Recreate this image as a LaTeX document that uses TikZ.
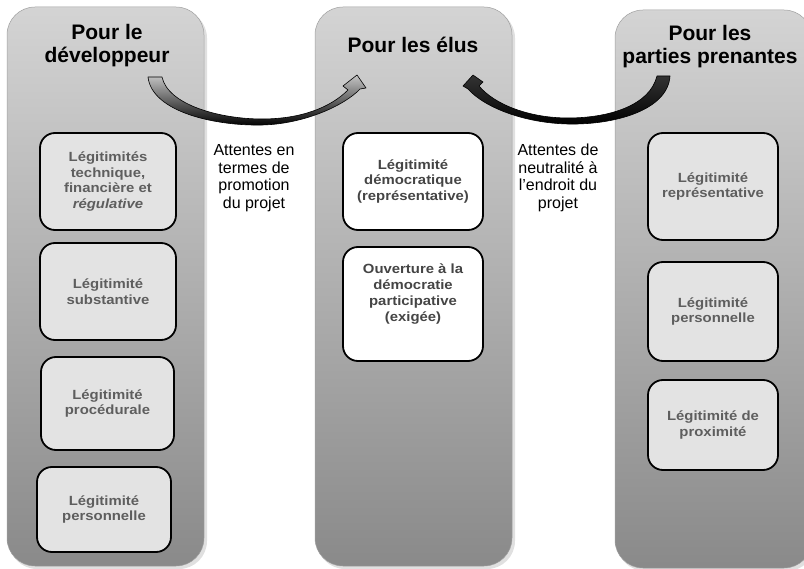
\documentclass[tikz,border=0pt]{standalone}
\usepackage{fontspec}
\setmainfont{Liberation Sans}
\newfontfamily\boxfont[FakeStretch=1.12]{Liberation Sans}
\definecolor{coltop}{gray}{0.83}
\definecolor{colbot}{gray}{0.54}
\definecolor{boxfill}{gray}{0.89}
\definecolor{boxtext}{HTML}{5E5E5E}
\definecolor{elustext}{HTML}{454545}
\begin{document}
\begin{tikzpicture}[x=1pt,y=-1pt,
  column/.style={rounded corners=28pt, top color=coltop, bottom color=colbot, draw=gray!75, line width=0.5pt},
  colshadow/.style={rounded corners=28pt, fill=black, opacity=0.12},
  legbox/.style={draw=black, line width=1.8pt, rounded corners=15pt, fill=boxfill, text=boxtext,
    font=\boxfont\fontsize{13.3}{15.7}\selectfont\bfseries, align=center, inner sep=0pt},
  elusbox/.style={legbox, fill=white, text=elustext},
  coltitle/.style={font=\fontsize{21}{23}\selectfont\bfseries, align=center, text=black},
  expect/.style={font=\fontsize{16}{17.6}\selectfont, align=center, text=black},
  bigarrow/.style={draw=black, line width=0.6pt, line join=round}
]
\useasboundingbox (0,0) rectangle (804,569);
\begin{scope}
\clip (0,0) rectangle (804,569);
% shadows
\fill[colshadow] (9,10) rectangle (207,569);
\fill[colshadow] (317,10) rectangle (515,569);
\fill[colshadow] (617,13) rectangle (815,571);
% columns
\path[column] (7,7) rectangle (204,566);
\path[column] (315,7) rectangle (512,566);
\path[column] (615,10) rectangle (812,568);
\end{scope}

% titles
\node[coltitle] (tdev) at (107,46) {Pour le\\développeur};
\node[coltitle] (telus) at (413,45) {Pour les élus};
\node[coltitle] (tpp) at (710,47) {Pour les\\parties prenantes};

% column 1 boxes
\node[legbox, minimum width=136pt, minimum height=97pt] (d1) at (108,181.5)
  {Légitimités\\technique,\\financière et\\\textit{régulative}};
\node[legbox, minimum width=136pt, minimum height=97pt] (d2) at (108,291.5)
  {Légitimité\\substantive};
\node[legbox, minimum width=133pt, minimum height=93pt] (d3) at (107.5,403.5)
  {Légitimité\\procédurale};
\node[legbox, minimum width=134pt, minimum height=85pt] (d4) at (104,509.5)
  {Légitimité\\personnelle};

% column 2 boxes
\node[elusbox, minimum width=140pt, minimum height=97pt] (e1) at (413,181.5)
  {Légitimité\\démocratique\\(représentative)};
\node[elusbox, minimum width=140pt, minimum height=114pt] (e2) at (413,304) {};
\node[font=\boxfont\fontsize{13.3}{15.7}\selectfont\bfseries, align=center, text=elustext] (e2t) at (413,294)
  {Ouverture à la\\démocratie\\participative\\(exigée)};

% column 3 boxes
\node[legbox, minimum width=130pt, minimum height=107pt] (p1) at (713,186.5)
  {Légitimité\\représentative};
\node[legbox, minimum width=130pt, minimum height=99pt] (p2) at (713,311.5)
  {Légitimité\\personnelle};
\node[legbox, minimum width=130pt, minimum height=90pt] (p3) at (713,425)
  {Légitimité de\\proximité};

% expectation labels
\node[expect] (x1) at (254,178) {Attentes en\\termes de\\promotion\\du projet};
\node[expect] (x2) at (558,178) {Attentes de\\neutralité à\\l'endroit du\\projet};

% curved arrow developer -> elus
\path[bigarrow, top color=gray!45, bottom color=black]
  (148,77) .. controls (152,112) and (215,126) .. (262,125)
  .. controls (305,124) and (345,105) .. (360,89)
  -- (366,88) -- (357,75) -- (343,86) -- (348,90)
  .. controls (330,108) and (300,119) .. (262,119)
  .. controls (220,119) and (168,105) .. (162,77) -- cycle;

% curved arrow parties prenantes -> elus
\path[bigarrow, top color=black!80, bottom color=black]
  (670,76) .. controls (668,110) and (615,125) .. (568,124)
  .. controls (525,123) and (485,108) .. (468,89)
  -- (463,86) -- (473,75) -- (483,82) -- (479,86)
  .. controls (495,105) and (530,118) .. (568,118)
  .. controls (610,118) and (650,105) .. (657,76) -- cycle;
\end{tikzpicture}
\end{document}
